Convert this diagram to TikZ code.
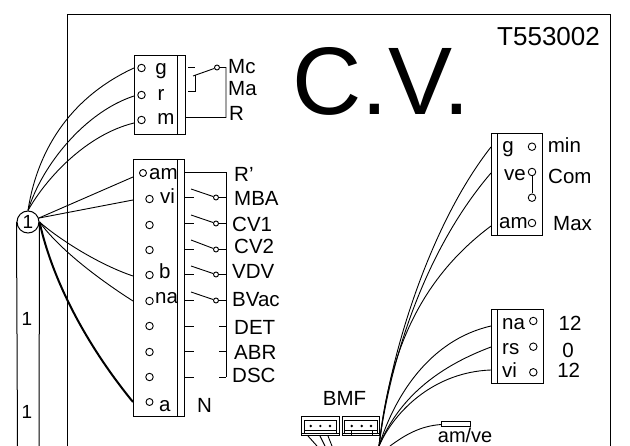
\documentclass[tikz,border=0pt]{standalone}
\usepackage{fontspec}
\setmainfont{Liberation Sans}
\begin{document}
\begin{tikzpicture}[x=1pt,y=-1pt]

\tikzset{wire/.style = {line width=0.9pt}}
\tikzset{heavy/.style = {line width=2pt}}
\tikzset{block/.style = {draw,line width=1pt}}
\tikzset{pin/.style = {shape=circle,draw,fill=white,line width=0.9pt,inner sep=0pt,minimum size=7.5pt}}
\tikzset{swpin/.style = {shape=circle,draw,fill=white,line width=0.9pt,inner sep=0pt,minimum size=5pt}}
\tikzset{dot/.style = {shape=circle,fill=black,inner sep=0pt,minimum size=2.6pt}}
\tikzset{lbl/.style = {font=\fontsize{20.5}{20.5}\selectfont,inner sep=0pt,anchor=base west}}
\useasboundingbox (0,0) rectangle (630,446);
%frame
\coordinate (fl) at (67.5,446);
\coordinate (fr) at (610.5,446);
\coordinate (ftl) at (67.5,15);
\coordinate (ftr) at (610.5,15);
\draw[block] (fl) -- (ftl) -- (ftr) -- (fr);
\node[lbl,font=\fontsize{96}{96}\selectfont,anchor=base] (title) at (381,115) {C.V.};
\node[lbl,font=\fontsize{26}{26}\selectfont] (ref) at (497,46) {T553002};
%bus
\node[shape=circle,draw,line width=1pt,minimum size=22pt,inner sep=0pt,font=\fontsize{19}{19}\selectfont] (bus) at (28,222) {1};
\coordinate (bl) at (17.5,446);
\coordinate (br) at (39,446);
\draw[block] (bus.west) -- (bl);
\draw[block] (bus.east) -- (br);
\node[lbl,font=\fontsize{19}{19}\selectfont,anchor=base] (one1) at (27,326) {1};
\node[lbl,font=\fontsize{19}{19}\selectfont,anchor=base] (one2) at (27,419) {1};
%top block
\node[block,minimum width=51pt,minimum height=79pt,inner sep=0pt] (tb) at (159.5,95.5) {};
\draw[block] (177,56) -- (177,135);
\node[pin] (tg) at (141.5,68) {};
\node[pin] (tr) at (141.5,95) {};
\node[pin] (tm) at (141.5,120) {};
\node[lbl,anchor=base] (ltg) at (161,75) {g};
\node[lbl,anchor=base] (ltr) at (161,101) {r};
\node[lbl,anchor=base] (ltm) at (166,125) {m};
\coordinate (wg) at (134,68);
\coordinate (wr) at (134,96);
\coordinate (wm) at (134,123);
\node[swpin] (sw0) at (217,67.5) {};
\coordinate (s0a) at (188,67.5);
\coordinate (s0b) at (195,67.5);
\coordinate (s0c) at (188,91.5);
\coordinate (s0d) at (195,91.5);
\coordinate (s0e) at (195,75);
\coordinate (s0f) at (193,76);
\coordinate (s0g) at (226,67.5);
\coordinate (s0h) at (226,117.5);
\coordinate (s0i) at (186,117.5);
\draw[wire] (s0a) -- (s0b);
\draw[wire] (s0c) -- (s0d) -- (s0e);
\draw[wire] (s0f) -- (sw0) -- (s0g) -- (s0h) -- (s0i);
\node[lbl] (mc) at (228,74) {Mc};
\node[lbl] (ma) at (228,96) {Ma};
\node[lbl] (rr) at (229,121) {R};
%main block
\node[block,minimum width=51.5pt,minimum height=257pt,inner sep=0pt] (mb) at (158.75,288.5) {};
\draw[block] (177,160) -- (177,417);
\node[pin,minimum size=7pt] (p1) at (143,173) {};
\node[pin] (p2) at (149.5,199) {};
\node[pin] (p3) at (149.5,225) {};
\node[pin] (p4) at (149.5,250) {};
\node[pin] (p5) at (149.5,275) {};
\node[pin] (p6) at (149.5,301) {};
\node[pin] (p7) at (149.5,326) {};
\node[pin] (p8) at (149.5,352) {};
\node[pin] (p9) at (149.5,377) {};
\node[pin,minimum size=7pt] (p10) at (149.5,402) {};
\node[lbl] (l1) at (149,180) {am};
\node[lbl] (l2) at (160,204) {vi};
\node[lbl] (l5) at (159,279) {b};
\node[lbl] (l6) at (155,304) {na};
\node[lbl] (l10) at (159,412) {a};
\node[lbl] (nn) at (197,413) {N};
\coordinate (w1) at (133,177);
\coordinate (w2) at (133,200);
\coordinate (w5) at (133,276);
\coordinate (w6) at (133,301);
\coordinate (w10) at (133,402);
%switches
\coordinate (r1) at (185,172.5);
\coordinate (rt) at (226,172.5);
\coordinate (rb) at (226,377.5);
\draw[wire] (r1) -- (rt) -- (rb);
\node[swpin] (s2) at (216,197.5) {};
\node[swpin] (s3) at (216,223.5) {};
\node[swpin] (s4) at (216,249.5) {};
\node[swpin] (s5) at (216,274.5) {};
\node[swpin] (s6) at (216,300.5) {};
\coordinate (a2) at (191,189);
\coordinate (a3) at (191,215);
\coordinate (a4) at (191,240);
\coordinate (a5) at (191,266);
\coordinate (a6) at (191,292);
\coordinate (b2) at (226,197.5);
\coordinate (b3) at (226,223.5);
\coordinate (b4) at (226,249.5);
\coordinate (b5) at (226,274.5);
\coordinate (b6) at (226,300.5);
\draw[wire] (a2) -- (s2) -- (b2);
\draw[wire] (a3) -- (s3) -- (b3);
\draw[wire] (a4) -- (s4) -- (b4);
\draw[wire] (a5) -- (s5) -- (b5);
\draw[wire] (a6) -- (s6) -- (b6);
%stubs
\draw[wire] (184.5,197.5) -- (193.5,197.5);
\draw[wire] (184.5,223.5) -- (193.5,223.5);
\draw[wire] (184.5,249.5) -- (193.5,249.5);
\draw[wire] (184.5,274.5) -- (193.5,274.5);
\draw[wire] (184.5,300.5) -- (193.5,300.5);
\draw[wire] (184.5,326.5) -- (193.5,326.5);
\draw[wire] (184.5,351.5) -- (193.5,351.5);
\draw[wire] (184.5,377.5) -- (193.5,377.5);
\draw[wire] (219,326.5) -- (226,326.5);
\draw[wire] (219,351.5) -- (226,351.5);
\draw[wire] (219,377.5) -- (226,377.5);
\node[lbl] (rp) at (234,182) {R'};
\node[lbl] (mba) at (234,206) {MBA};
\node[lbl] (cv1) at (232,232) {CV1};
\node[lbl] (cv2) at (234,254) {CV2};
\node[lbl] (vdv) at (232,279) {VDV};
\node[lbl] (bvac) at (232,307) {BVac};
\node[lbl] (det) at (234,335) {DET};
\node[lbl] (abr) at (234,360) {ABR};
\node[lbl] (dsc) at (232,383) {DSC};
%bus wires
\draw[wire] (bus.north) .. controls (38,145) and (75,95) .. (wg);
\draw[wire] (bus.north) .. controls (42,165) and (85,112) .. (wr);
\draw[wire] (bus.north) .. controls (45,180) and (85,135) .. (wm);
\draw[wire] (bus.20) -- (w1);
\draw[wire] (bus.20) -- (w2);
\draw[wire] (bus.east) .. controls (60,240) and (100,265) .. (w5);
\draw[wire] (bus.east) .. controls (60,250) and (100,280) .. (w6);
\draw[heavy] (bus.east) .. controls (54,287) and (92,352) .. (w10);
%right block
\node[block,minimum width=51.7pt,minimum height=102.5pt,inner sep=0pt] (rb1) at (516.85,184.75) {};
\draw[block] (497,133.5) -- (497,236);
\node[pin] (q1) at (532,146.7) {};
\node[pin] (q2) at (532,172) {};
\node[pin] (q3) at (532,197.7) {};
\node[pin] (q4) at (532,223) {};
\draw[wire] (q2) -- (q3);
\node[lbl,anchor=base] (lq1) at (508,153) {g};
\node[lbl] (lq2) at (504,181) {ve};
\node[lbl] (lq4) at (499,229) {am};
\node[lbl] (lmin) at (547.7,153) {min};
\node[lbl] (lcom) at (548,184) {Com};
\node[lbl] (lmax) at (553,231) {Max};
\coordinate (e1) at (491,147);
\coordinate (e2) at (491,173);
\coordinate (e3) at (491,226);
%low right block
\node[block,minimum width=51.6pt,minimum height=73.3pt,inner sep=0pt] (rb2) at (517.5,346.65) {};
\draw[block] (497.3,310) -- (497.3,383.3);
\node[pin] (u1) at (533.3,321) {};
\node[pin] (u2) at (533.3,346.7) {};
\node[pin] (u3) at (533.3,372.3) {};
\node[lbl] (lu1) at (502,330) {na};
\node[lbl] (lu2) at (502,355) {rs};
\node[lbl] (lu3) at (502,378) {vi};
\node[lbl,anchor=base] (v1) at (570,331) {12};
\node[lbl,anchor=base] (v2) at (568,358) {0};
\node[lbl,anchor=base] (v3) at (568.7,378) {12};
\coordinate (e4) at (491,326);
\coordinate (e5) at (491,347);
\coordinate (e6) at (491,370);
%fan
\coordinate (fan) at (379,446);
\draw[wire] (fan) .. controls (390,350) and (432,222) .. (e1);
\draw[wire] (fan) .. controls (390,360) and (425,250) .. (e2);
\draw[wire] (fan) .. controls (388,365) and (412,285) .. (e3);
\draw[wire] (fan) .. controls (395,395) and (430,340) .. (e4);
\draw[wire] (fan) .. controls (398,400) and (435,368) .. (e5);
\draw[wire] (fan) .. controls (395,410) and (435,372) .. (e6);
%am/ve
\node[block,minimum width=28.3pt,minimum height=5pt,inner sep=0pt] (amve) at (455.85,424.5) {};
\node[lbl,font=\fontsize{20}{20}\selectfont] (lamve) at (437.7,443) {am/ve};
\coordinate (fan2) at (390,446);
\draw[wire] (fan2) .. controls (405,435) and (420,426) .. (amve.west);
%BMF
\node[lbl] (bmf) at (322.7,406) {BMF};
\node[block,minimum width=37.6pt,minimum height=19pt,inner sep=0pt] (c1) at (320.5,426.5) {};
\node[block,minimum width=37pt,minimum height=19pt,inner sep=0pt] (c2) at (360.5,426.5) {};
\draw[wire] (304,433) -- (304,420.7) -- (336.5,420.7) -- (336.5,433);
\draw[wire] (344.5,433) -- (344.5,420.7) -- (377,420.7) -- (377,433);
\draw[wire] (301.7,433) -- (339.3,433);
\draw[wire] (342,433) -- (379,433);
\draw[wire] (304,430) -- (336.5,430);
\draw[wire] (344.5,430) -- (377,430);
\node[dot] (d1) at (310.7,426) {};
\node[dot] (d2) at (320.3,426) {};
\node[dot] (d3) at (330,426) {};
\node[dot] (d4) at (351.7,426) {};
\node[dot] (d5) at (361.7,426) {};
\node[dot] (d6) at (371,426) {};
\draw[wire] (308,436) -- (317,446);
\draw[wire] (320,436) -- (325,446);
\draw[wire] (328,436) -- (332,446);
\draw[wire] (351,430) -- (351,436);
\draw[wire] (372,430) -- (372,436);

\end{tikzpicture}
\end{document}
